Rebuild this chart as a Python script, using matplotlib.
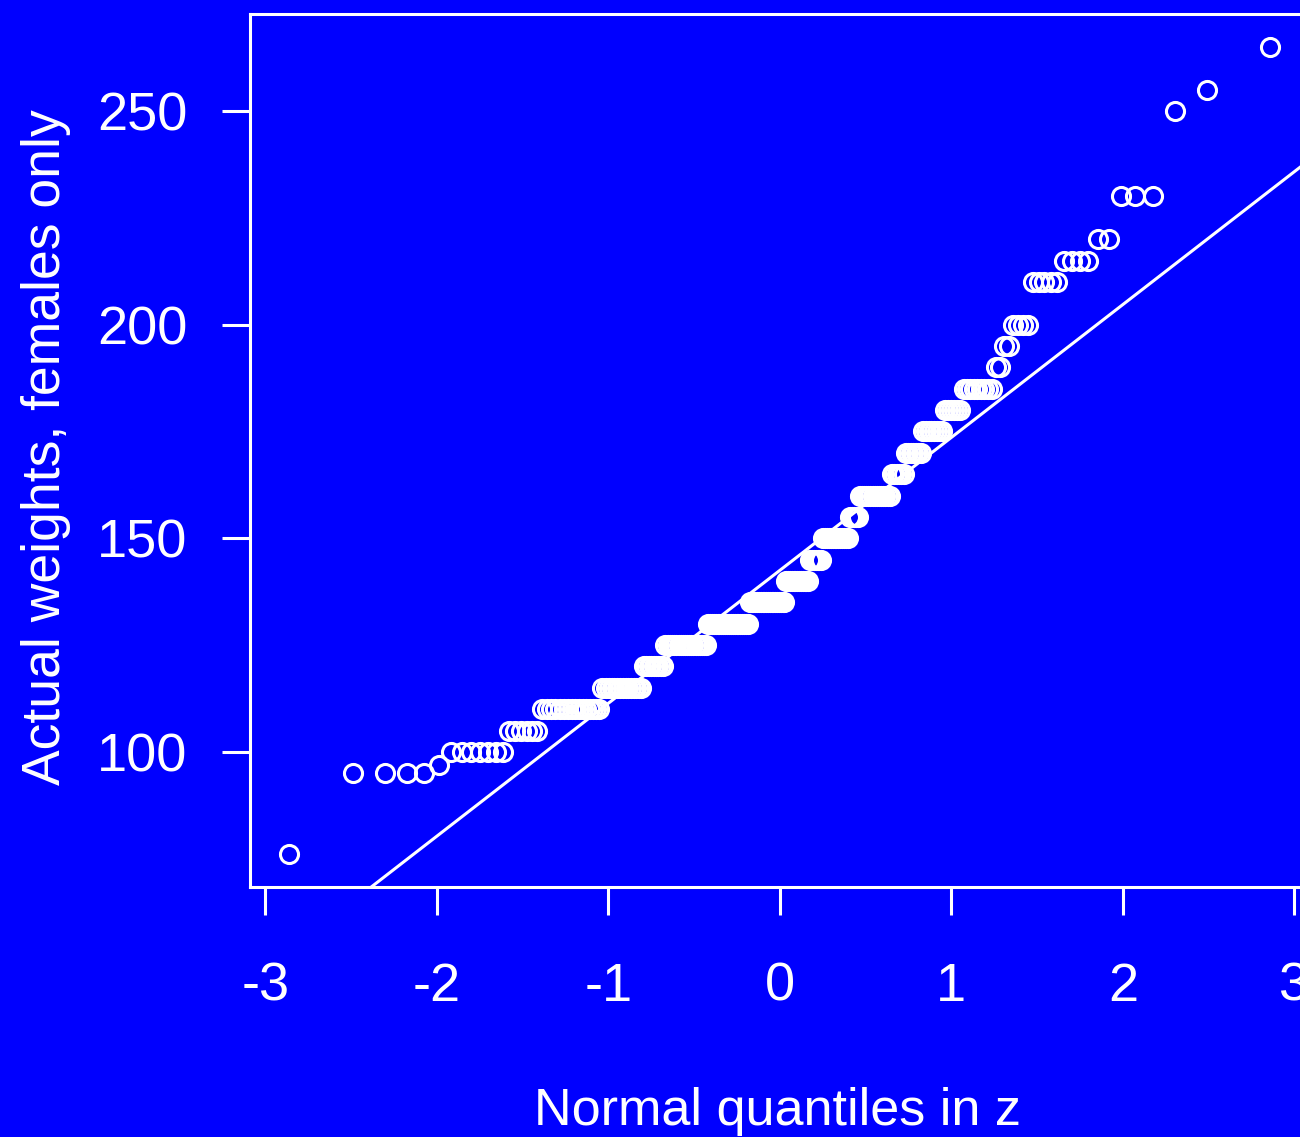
import matplotlib
matplotlib.use("Agg")
import matplotlib.pyplot as plt
import numpy as np
from statistics import NormalDist

# female weights (lb) and how many students reported each value
weights = [76, 95, 97, 100, 105, 110, 115, 120, 125, 130, 135, 140, 145, 150,
           155, 160, 165, 170, 175, 180, 185, 190, 195, 200, 210, 215, 220,
           230, 250, 255, 265]
counts = [1, 4, 1, 7, 6, 16, 15, 9, 20, 22, 20, 13, 7, 14,
          5, 15, 6, 7, 8, 6, 9, 2, 2, 4, 5, 4, 2,
          3, 1, 1, 1]

# reference line
line_intercept = 142.5
line_slope = 31.1

xticks = [-3, -2, -1, 0, 1, 2, 3]
yticks = [100, 150, 200, 250]

plt.rcParams['font.family'] = ['Liberation Sans', 'DejaVu Sans']
plt.rcParams['axes.unicode_minus'] = False

y = np.repeat(weights, counts).astype(float)
n = len(y)
nd = NormalDist()
z = np.array([nd.inv_cdf((i - 0.5) / n) for i in range(1, n + 1)])

blue = '#0000ff'
fig = plt.figure(figsize=(13, 11.37), dpi=100, facecolor=blue)
ax = fig.add_axes([0.1923, 0.2199, 0.8152, 0.7674], facecolor=blue)

ax.plot(z, y, linestyle='none', marker='o', markersize=13,
        markerfacecolor='none', markeredgecolor='white', markeredgewidth=2.2)

xl = np.array([-3.09, 3.09])
ax.plot(xl, line_intercept + line_slope * xl, color='white', lw=2.2)

ax.set_xlim(-3.09, 3.09)
ax.set_ylim(68.4, 272.6)
ax.set_xticks(xticks)
ax.set_yticks(yticks)
ax.set_xticklabels([str(t) for t in xticks])
ax.set_yticklabels([str(t) for t in yticks])

for s in ax.spines.values():
    s.set_color('white')
    s.set_linewidth(2.2)

ax.tick_params(axis='both', direction='out', length=20, width=2.2,
               color='white', labelcolor='white', labelsize=39)
ax.tick_params(axis='x', pad=34)
ax.tick_params(axis='y', pad=25)

ax.set_xlabel('Normal quantiles in z', color='white', fontsize=37.5)
ax.set_ylabel('Actual weights, females only', color='white', fontsize=38.5)
ax.xaxis.set_label_coords(0.498, -0.229)
ax.yaxis.set_label_coords(-0.169, 0.504)

fig.savefig('out.png', dpi=100, facecolor=blue)
